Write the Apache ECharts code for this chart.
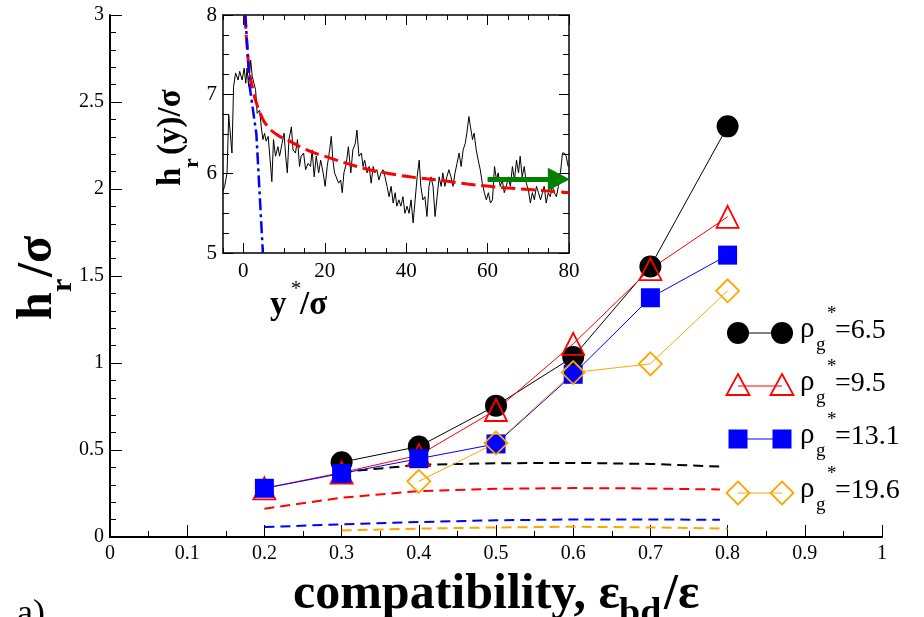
<!DOCTYPE html>
<html>
<head>
<meta charset="utf-8">
<script src="https://cdn.jsdelivr.net/npm/echarts@6/dist/echarts.min.js"></script>
<style>
html, body { margin: 0; padding: 0; background: #fff; }
#chart { width: 924px; height: 617px; }
</style>
</head>
<body>
<div id="chart"></div>
<script>
// main panel: h_r/sigma against compatibility
var compat = [0.2, 0.3, 0.4, 0.5, 0.6, 0.7, 0.8];
var rho65  = [null, 0.43, 0.52, 0.755, 1.035, 1.555, 2.36];
var rho95  = [0.28, 0.37, 0.47, 0.73, 1.11, 1.54, 1.84];
var rho131 = [0.28, 0.365, 0.45, 0.535, 0.935, 1.375, 1.62];
var rho196 = [null, null, 0.32, 0.54, 0.945, 0.995, 1.415];

// dashed estimates
var dashX    = [0.2, 0.3, 0.4, 0.5, 0.6, 0.7, 0.79];
var dash65   = [null, 0.373, 0.415, 0.424, 0.426, 0.42, 0.405];
var dash95   = [0.163, 0.226, 0.264, 0.277, 0.281, 0.279, 0.273];
var dash131  = [0.057, 0.073, 0.086, 0.096, 0.101, 0.101, 0.099];
var dash196X = [0.3, 0.4, 0.5, 0.6, 0.7, 0.8];
var dash196  = [0.038, 0.048, 0.055, 0.059, 0.055, 0.048];

var xTicks = [0, 0.1, 0.2, 0.3, 0.4, 0.5, 0.6, 0.7, 0.8, 0.9, 1];
var yTicks = [0, 0.5, 1, 1.5, 2, 2.5, 3];

// inset: h_r(y)/sigma profile
var traceX = [-5.0,-4.6,-4.0,-3.6,-3.2,-2.8,-2.4,-1.9,-1.3,-0.9,-0.3,0.2,0.6,0.9,1.3,1.8,2.2,2.6,3.0,3.4,
  4.0,4.4,4.8,5.2,5.6,6.1,6.5,7.0,7.4,7.9,8.5,8.9,9.5,10.0,10.4,10.8,11.2,11.8,12.2,12.8,
  13.3,13.8,14.2,14.8,15.3,15.9,16.5,16.9,17.4,17.9,18.5,19.0,19.6,20.1,20.6,21.2,21.6,22.0,22.4,22.8,
  23.4,23.9,24.3,24.7,25.3,25.8,26.4,26.9,27.5,27.9,28.4,29.0,29.4,29.8,30.4,30.9,31.4,31.9,32.3,32.8,
  33.3,33.8,34.3,34.8,35.3,35.8,36.3,36.8,37.3,37.7,38.2,38.7,39.2,39.7,40.2,40.7,41.2,41.7,42.2,42.7,
  43.2,43.6,44.1,44.6,45.1,45.6,46.1,46.6,47.1,47.6,48.1,48.6,49.0,49.5,50.0,50.5,51.0,51.5,52.0,52.5,
  53.0,53.5,54.0,54.5,54.9,55.4,55.8,56.3,56.7,57.2,57.7,58.2,58.7,59.2,59.7,60.2,60.7,61.2,61.7,62.2,
  62.6,63.1,63.6,64.1,64.6,65.1,65.6,66.1,66.6,67.1,67.6,68.0,68.5,69.0,69.5,70.0,70.5,71.0,71.5,72.0,
  72.5,73.0,73.5,73.9,74.4,74.9,75.4,75.9,76.4,76.9,77.4,77.9,78.4,78.9,79.3,79.8];
var traceY = [5.78,5.84,6.01,6.74,6.74,6.26,7.10,7.27,7.18,7.29,7.18,7.33,7.14,7.33,7.10,7.43,7.22,7.14,7.06,6.76,
  6.80,6.59,6.43,6.51,6.41,6.47,6.22,5.90,6.43,6.22,6.34,6.22,6.38,6.51,6.22,6.01,6.43,6.59,6.30,6.26,
  6.43,6.09,6.22,6.26,6.05,6.13,6.09,6.30,5.96,6.22,6.01,6.17,6.01,5.84,6.09,6.30,6.47,6.17,6.01,5.96,
  5.88,5.92,5.76,6.01,6.13,6.34,6.01,6.30,6.38,6.55,6.22,6.26,6.09,6.17,6.01,6.09,5.88,6.09,6.01,6.05,
  5.92,6.01,6.05,5.96,5.84,5.71,5.84,5.63,5.76,5.59,5.67,5.59,5.71,5.50,5.59,5.50,5.67,5.38,5.67,5.96,
  6.17,5.84,5.67,5.71,5.46,5.84,5.96,5.84,5.46,5.71,5.96,5.84,6.01,5.84,5.96,6.05,5.96,5.84,6.01,6.13,
  6.26,6.09,6.30,6.38,6.51,6.72,6.59,6.43,6.51,6.30,6.17,6.05,5.88,5.76,5.67,5.76,5.63,5.67,6.09,5.92,
  6.01,5.84,5.92,5.76,5.84,5.96,5.84,6.09,5.92,6.17,6.01,6.22,5.96,6.09,5.88,5.80,5.63,5.76,5.67,5.84,
  5.76,5.67,5.76,5.84,5.63,5.76,5.71,5.84,5.76,5.71,5.84,6.01,6.26,6.26,6.22,6.09];
var fitX = [0.4, 1.0, 1.6, 2.4, 3.2, 4.5, 5.6, 8, 11.4, 16, 21.2, 26, 31, 36, 40.9, 46, 50.7, 55, 60.5, 65, 70.3, 75, 80];
var fitY = [8.0, 7.55, 7.25, 7.05, 6.89, 6.72, 6.62, 6.5, 6.41, 6.29, 6.2, 6.12, 6.05, 6.0, 5.96, 5.93, 5.9, 5.87, 5.84, 5.82, 5.8, 5.78, 5.76];
var steepX = [0.5, 1.55, 3.2, 4.8];
var steepY = [8.0, 7.1, 6.5, 5.0];
var arrowX = [60, 77.5];
var arrowY = [5.93, 5.93];

function pairs(xs, ys) {
    var out = [];
    for (var i = 0; i < Math.min(xs.length, ys.length); i++) {
        if (ys[i] != null) out.push([xs[i], ys[i]]);
    }
    return out;
}

var serif = 'Liberation Serif';

// text piece placed by its baseline
function txt(x, base, str, size, bold) {
    return {
        type: 'text',
        x: x,
        y: base - 0.34 * size,
        style: {
            text: str,
            fontSize: size,
            fontFamily: serif,
            fontWeight: bold ? 'bold' : 'normal',
            fill: '#000',
            textAlign: 'left',
            textVerticalAlign: 'middle'
        }
    };
}

var chart = echarts.init(document.getElementById('chart'));

var legendRows = [
    { y: 333, color: '#000', label: '=6.5', sym: 'circle' },
    { y: 386, color: '#ff0000', label: '=9.5', sym: 'triangle' },
    { y: 439, color: '#0000ff', label: '=13.1', sym: 'square' },
    { y: 493, color: '#ffa500', label: '=19.6', sym: 'diamond' }
];

function legendSymbol(kind, cx, cy, color) {
    if (kind === 'circle') {
        return { type: 'circle', shape: { cx: cx, cy: cy, r: 11 }, style: { fill: color } };
    }
    if (kind === 'square') {
        return { type: 'rect', shape: { x: cx - 9.5, y: cy - 9.5, width: 19, height: 19 }, style: { fill: color } };
    }
    if (kind === 'triangle') {
        return { type: 'polygon', shape: { points: [[cx, cy - 12], [cx + 11.5, cy + 9], [cx - 11.5, cy + 9]] },
            style: { fill: 'none', stroke: color, lineWidth: 1.8 } };
    }
    return { type: 'polygon', shape: { points: [[cx, cy - 11.5], [cx + 11.5, cy], [cx, cy + 11.5], [cx - 11.5, cy]] },
        style: { fill: 'none', stroke: color, lineWidth: 1.8 } };
}

var graphics = [];
legendRows.forEach(function (r) {
    graphics.push({ type: 'line', shape: { x1: 738, y1: r.y, x2: 782, y2: r.y }, style: { stroke: r.color, lineWidth: 1 } });
    graphics.push(legendSymbol(r.sym, 738, r.y, r.color));
    graphics.push(legendSymbol(r.sym, 782, r.y, r.color));
    graphics.push(txt(800, r.y + 6, 'ρ', 29, false));
    graphics.push(txt(816, r.y + 18, 'g', 19, false));
    graphics.push(txt(827, r.y - 13, '*', 19, false));
    graphics.push(txt(835, r.y + 7, r.label, 28, false));
});

// axis titles
graphics.push(txt(293, 612, 'compatibility, ε', 50, true));
graphics.push(txt(619, 627, 'bd', 38, true));
graphics.push(txt(664, 612, '/ε', 50, true));
graphics.push({
    type: 'group', x: 38, y: 320, rotation: Math.PI / 2,
    children: [
        txt(0, 17, 'h', 50, true),
        txt(28, 35, 'r', 30, true),
        txt(43, 17, '/σ', 50, true)
    ]
});
graphics.push({
    type: 'group', x: 172, y: 186, rotation: Math.PI / 2,
    children: [
        txt(0, 11, 'h', 33, true),
        txt(18, 28, 'r', 22, true),
        txt(31, 11, '(y)/σ', 33, true)
    ]
});
graphics.push(txt(270, 317, 'y', 33, true));
graphics.push(txt(291, 297, '*', 20, false));
graphics.push(txt(300, 317, '/σ', 33, true));
graphics.push(txt(17, 627, 'a)', 36, false));

var tickFont = { color: '#000', fontFamily: serif, fontSize: 20 };
var insetFont = { color: '#000', fontFamily: serif, fontSize: 21 };

function insetX(pos, major) {
    var ax = {
        type: 'value', gridIndex: 1, min: -5, max: 80, position: pos,
        axisLine: { show: !major, onZero: false, lineStyle: { color: '#000', width: 1.5 } },
        splitLine: { show: false },
        axisTick: { show: true, inside: true, length: major ? 10 : 5, lineStyle: { color: '#000', width: 1 } },
        axisLabel: { show: false }
    };
    if (major) {
        ax.axisTick.customValues = [0, 20, 40, 60, 80];
        if (pos === 'bottom') {
            ax.axisLabel = Object.assign({ show: true, margin: 8, customValues: [0, 20, 40, 60, 80] }, insetFont);
        }
    } else {
        ax.interval = 5;
    }
    return ax;
}

var option = {
    backgroundColor: '#fff',
    animation: false,
    grid: [
        { left: 110, right: 42, top: 15, bottom: 80 },
        { left: 223, right: 355, top: 15, bottom: 364, show: true, backgroundColor: '#fff', borderWidth: 0 }
    ],
    xAxis: [
        {
            type: 'value', gridIndex: 0, min: 0, max: 1, interval: 0.1,
            axisLine: { onZero: false, lineStyle: { color: '#000', width: 2 } },
            splitLine: { show: false },
            axisTick: { inside: true, length: 12, lineStyle: { color: '#000', width: 1 } },
            minorTick: { show: true, splitNumber: 2, length: 6, lineStyle: { color: '#000', width: 1 } },
            axisLabel: Object.assign({ margin: 7, customValues: xTicks }, tickFont)
        },
        insetX('bottom', false),
        insetX('bottom', true),
        insetX('top', false),
        insetX('top', true)
    ],
    yAxis: [
        {
            type: 'value', gridIndex: 0, min: 0, max: 3, interval: 0.5,
            axisLine: { show: true, onZero: false, lineStyle: { color: '#000', width: 2 } },
            splitLine: { show: false },
            axisTick: { show: true, inside: true, length: 12, lineStyle: { color: '#000', width: 1 } },
            minorTick: { show: true, splitNumber: 5, length: 6, lineStyle: { color: '#000', width: 1 } },
            axisLabel: Object.assign({ margin: 6, customValues: yTicks }, tickFont)
        },
        {
            type: 'value', gridIndex: 1, min: 5, max: 8, interval: 1, position: 'left',
            axisLine: { show: true, onZero: false, lineStyle: { color: '#000', width: 1.5 } },
            splitLine: { show: false },
            axisTick: { show: true, inside: true, length: 10, lineStyle: { color: '#000', width: 1 } },
            minorTick: { show: true, splitNumber: 4, length: 6, lineStyle: { color: '#000', width: 1 } },
            axisLabel: Object.assign({ margin: 6 }, insetFont)
        },
        {
            type: 'value', gridIndex: 1, min: 5, max: 8, interval: 1, position: 'right',
            axisLine: { show: true, onZero: false, lineStyle: { color: '#000', width: 1.5 } },
            splitLine: { show: false },
            axisTick: { show: true, inside: true, length: 10, lineStyle: { color: '#000', width: 1 } },
            minorTick: { show: true, splitNumber: 4, length: 6, lineStyle: { color: '#000', width: 1 } },
            axisLabel: { show: false }
        }
    ],
    graphic: graphics,
    series: [
        { type: 'line', data: pairs(dashX, dash65), showSymbol: false, silent: true,
          lineStyle: { color: '#000', width: 2, type: [10, 6] } },
        { type: 'line', data: pairs(dashX, dash95), showSymbol: false, silent: true,
          lineStyle: { color: '#ff0000', width: 2, type: [10, 6] } },
        { type: 'line', data: pairs(dashX, dash131), showSymbol: false, silent: true,
          lineStyle: { color: '#0000ff', width: 2, type: [10, 6] } },
        { type: 'line', data: pairs(dash196X, dash196), showSymbol: false, silent: true,
          lineStyle: { color: '#ffa500', width: 2, type: [10, 6] } },
        { type: 'line', data: pairs(compat, rho65), symbol: 'circle', symbolSize: 22,
          lineStyle: { color: '#000', width: 1 }, itemStyle: { color: '#000' } },
        { type: 'line', data: pairs(compat, rho95), symbol: 'triangle', symbolSize: 22,
          lineStyle: { color: '#ff0000', width: 1 },
          itemStyle: { color: 'rgba(0,0,0,0)', borderColor: '#ff0000', borderWidth: 1.8 } },
        { type: 'line', data: pairs(compat, rho131), symbol: 'rect', symbolSize: 19,
          lineStyle: { color: '#0000ff', width: 1 }, itemStyle: { color: '#0000ff' } },
        { type: 'line', data: pairs(compat, rho196), symbol: 'diamond', symbolSize: 23,
          lineStyle: { color: '#ffa500', width: 1 },
          itemStyle: { color: 'rgba(0,0,0,0)', borderColor: '#ffa500', borderWidth: 1.8 } },

        { type: 'line', xAxisIndex: 1, yAxisIndex: 1, data: pairs(traceX, traceY), showSymbol: false,
          lineStyle: { color: '#000', width: 1 } },
        { type: 'line', xAxisIndex: 1, yAxisIndex: 1, data: pairs(fitX, fitY), showSymbol: false, smooth: true,
          lineStyle: { color: '#ff0000', width: 3, type: [14, 6] } },
        { type: 'line', xAxisIndex: 1, yAxisIndex: 1, data: pairs(steepX, steepY), showSymbol: false,
          lineStyle: { color: '#0000ff', width: 2.5, type: [12, 4, 3, 4] } },
        { type: 'line', xAxisIndex: 1, yAxisIndex: 1, data: pairs(arrowX, arrowY), showSymbol: false,
          lineStyle: { opacity: 0 },
          markLine: {
              silent: true, symbol: ['none', 'triangle'], symbolSize: [23, 22],
              label: { show: false },
              lineStyle: { color: '#008000', width: 5, type: 'solid' },
              data: [[{ coord: [arrowX[0], arrowY[0]] }, { coord: [arrowX[1], arrowY[1]] }]]
          } }
    ]
};

chart.setOption(option);
</script>
</body>
</html>
